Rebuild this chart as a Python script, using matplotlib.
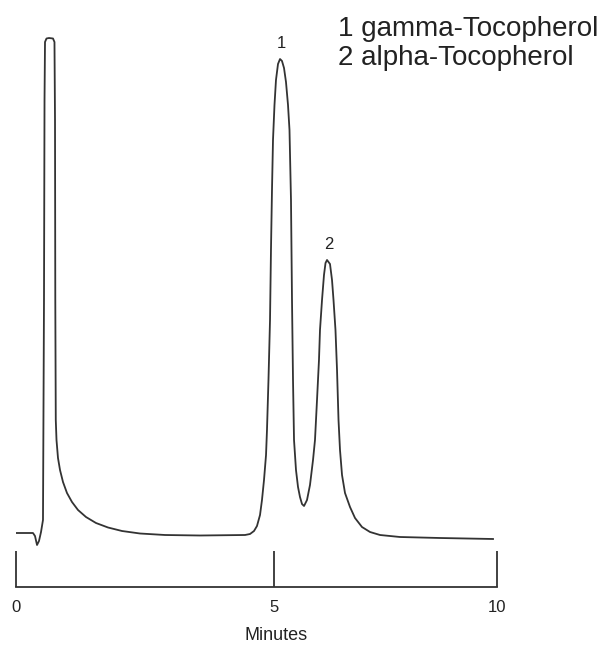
import matplotlib
matplotlib.use('Agg')
import matplotlib.pyplot as plt

plt.rcParams['font.family'] = ['Liberation Sans', 'DejaVu Sans']

# chromatogram trace (time in minutes, detector response)
minutes = [0.000, 0.353, 0.395, 0.437, 0.478, 0.520, 0.561, 0.582, 0.593, 0.603,
           0.634, 0.686, 0.769, 0.800, 0.811, 0.817, 0.827, 0.842, 0.873, 0.915,
           0.977, 1.060, 1.164, 1.289, 1.455, 1.663, 1.913, 2.204, 2.578, 3.098,
           3.825, 4.761, 4.865, 4.948, 5.010, 5.073, 5.114, 5.156, 5.198, 5.218,
           5.249, 5.281, 5.301, 5.322, 5.343, 5.374, 5.405, 5.447, 5.489, 5.530,
           5.572, 5.613, 5.655, 5.686, 5.717, 5.738, 5.759, 5.780, 5.821, 5.863,
           5.904, 5.946, 5.988, 6.050, 6.112, 6.175, 6.216, 6.258, 6.299, 6.320,
           6.362, 6.403, 6.435, 6.466, 6.528, 6.570, 6.601, 6.642, 6.674, 6.705,
           6.736, 6.778, 6.840, 6.944, 7.048, 7.193, 7.360, 7.568, 7.983, 8.815,
           9.917]
response = [0.8, 0.8, 0.2, -1.6, -0.8, 1.0, 3.4, 47.4, 87.4, 99.0,
            99.7, 99.8, 99.7, 99.0, 83.4, 47.4, 23.4, 19.4, 15.8, 13.4,
            11.0, 8.8, 7.0, 5.4, 4.0, 2.8, 1.9, 1.2, 0.7, 0.4,
            0.3, 0.4, 0.6, 1.2, 2.2, 4.4, 7.4, 11.4, 16.4, 21.4,
            31.4, 43.4, 57.4, 69.4, 79.4, 86.4, 91.4, 94.6, 95.6, 95.2,
            93.8, 91.0, 86.4, 81.4, 67.4, 47.4, 31.4, 19.4, 13.4, 10.0,
            8.0, 6.6, 6.2, 7.4, 10.4, 15.4, 19.4, 27.4, 35.4, 41.4,
            47.4, 52.4, 54.8, 55.4, 54.6, 51.4, 47.4, 41.4, 33.4, 23.4,
            17.4, 12.4, 8.8, 6.0, 3.8, 2.0, 1.0, 0.4, 0.0, -0.2,
            -0.4]

peak_labels = ['1', '2']
peak_times = [5.489, 6.466]
peak_heights = [95.6, 55.4]
compounds = ['gamma-Tocopherol', 'alpha-Tocopherol']

tick_pos = [0, 5.36, 10]
tick_labels = ['0', '5', '10']

fig = plt.figure(figsize=(6.14, 6.46), dpi=100)
ax = fig.add_axes([16 / 614, 59 / 646, 481 / 614, 587 / 646])

ax.plot(minutes, response, color='#333333', lw=1.3, solid_joinstyle='round')

for lab, t, h in zip(peak_labels, peak_times, peak_heights):
    ax.annotate(lab, xy=(t, h), xytext=(1, 11), textcoords='offset points',
                ha='center', va='center', fontsize=12, color='#222222')

ax.set_xlim(0, 10)
ax.set_ylim(-10, 107.4)
for side in ['top', 'right', 'left']:
    ax.spines[side].set_visible(False)
ax.spines['bottom'].set_linewidth(1.3)
ax.spines['bottom'].set_color('#333333')
ax.set_yticks([])
ax.set_xticks(tick_pos, tick_labels)
ax.tick_params(axis='x', direction='in', length=26, width=1.3, color='#333333',
               pad=9, labelsize=12, labelcolor='#222222')
ax.set_xlabel('Minutes', fontsize=13, color='#222222')
ax.xaxis.set_label_coords(0.54, -0.068)
ax.patch.set_visible(False)

for i, (lab, name) in enumerate(zip(peak_labels, compounds)):
    fig.text(338 / 614, (646 - 36 - 29 * i) / 646, f'{lab} {name}',
             fontsize=20, va='baseline', ha='left', color='#222222')

fig.savefig('out.png', dpi=100)
